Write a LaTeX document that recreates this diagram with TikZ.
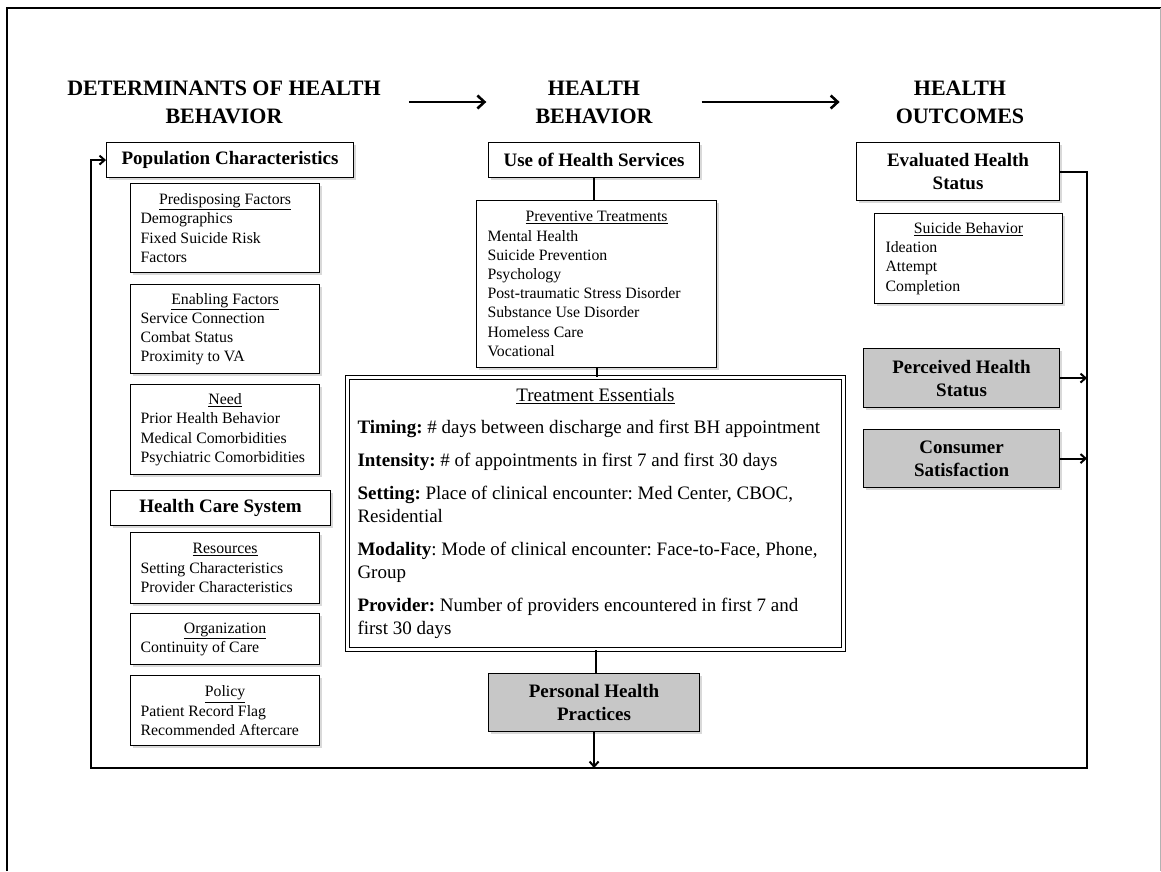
\documentclass[tikz,border=0pt]{standalone}
\usepackage{fontspec}
\setmainfont{Liberation Serif}
\usepackage{tikz}
\usetikzlibrary{arrows.meta, positioning, shadows}
\setlength{\parindent}{0pt}
\tikzset{
  head/.style={align=center, inner sep=0pt, font=\fontsize{22}{28}\selectfont\bfseries},
  cat/.style={rectangle, draw=black, line width=1.1pt, fill=white, align=center, inner sep=2pt,
              anchor=north west, font=\fontsize{19}{23}\selectfont\bfseries,
              drop shadow={shadow xshift=2pt, shadow yshift=-2pt, opacity=0.3}},
  outc/.style={cat, fill=black!22},
  item/.style={rectangle, draw=black, line width=1.1pt, fill=white, align=flush left,
               inner xsep=10pt, inner ysep=2pt, anchor=north west,
               font=\fontsize{15.8}{19.2}\selectfont\frenchspacing,
               drop shadow={shadow xshift=2pt, shadow yshift=-2pt, opacity=0.3}},
  link/.style={line width=2pt},
  arrow/.style={link, -{Straight Barb[length=5pt, width=9pt]}},
  bigarrow/.style={line width=2.6pt, -{Straight Barb[length=7pt, width=13pt]}},
}
\newcommand{\hd}[1]{\makebox[\hsize]{\underline{#1}}}

\begin{document}
\begin{tikzpicture}[x=1pt, y=-1pt]
  \useasboundingbox (0,0) rectangle (1161,871);
  % slide frame
  \draw[line width=1.6pt] (7,871) -- (7,8) -- (1161,8);
  \draw[black!30] (1160,8) -- (1160,871);

  % column headings
  \node[head] (hdet) at (224,102) {DETERMINANTS OF HEALTH\\BEHAVIOR};
  \node[head] (hbeh) at (594,102) {HEALTH\\BEHAVIOR};
  \node[head] (hout) at (960,102) {HEALTH\\OUTCOMES};
  \draw[bigarrow, shorten <=28pt, shorten >=49pt] (hdet.east) -- (hbeh.west);
  \draw[bigarrow, shorten <=49pt, shorten >=56pt] (hbeh.east) -- (hout.west);

  % determinants
  \node[cat, minimum width=247pt, minimum height=35pt] (pop) at (106,142) {Population Characteristics};
  \node[item, text width=169pt, minimum height=89pt] (predis) at (130,183)
    {\hd{Predisposing Factors}\\Demographics\\Fixed Suicide Risk\\Factors};
  \node[item, text width=169pt, minimum height=89pt, below=11pt of predis] (enab)
    {\hd{Enabling Factors}\\Service Connection\\Combat Status\\Proximity to VA};
  \node[item, text width=169pt, minimum height=90pt, below=10pt of enab] (need)
    {\hd{Need}\\Prior Health Behavior\\Medical Comorbidities\\Psychiatric Comorbidities};
  \node[cat, minimum width=220pt, minimum height=35pt] (hcs) at (110,490) {Health Care System};
  \node[item, text width=169pt, minimum height=71pt] (res) at (130,532)
    {\hd{Resources}\\Setting Characteristics\\Provider Characteristics};
  \node[item, text width=169pt, minimum height=51pt, below=9pt of res] (org)
    {\hd{Organization}\\Continuity of Care};
  \node[item, text width=169pt, minimum height=70pt, below=10pt of org] (pol)
    {\hd{Policy}\\Patient Record Flag\\Recommended Aftercare};

  % health behavior
  \node[cat, minimum width=211pt, minimum height=35pt] (use) at (488,142) {Use of Health Services};
  \node[item, text width=218pt, inner xsep=11pt, minimum height=167pt] (prev) at (476,200)
    {\hd{Preventive Treatments}\\Mental Health\\Suicide Prevention\\Psychology\\
     Post-traumatic Stress Disorder\\Substance Use Disorder\\Homeless Care\\Vocational};
  \node[item, double, double distance=2.4pt, line width=1pt, text width=476pt, inner xsep=10pt,
        minimum height=272pt, font=\fontsize{19}{23}\selectfont\frenchspacing] (ess) at (347,377)
    {\hd{Treatment Essentials}\\[9pt]
     \textbf{Timing:} \# days between discharge and first BH appointment\\[10pt]
     \textbf{Intensity:} \# of appointments in first 7 and first 30 days\\[10pt]
     \textbf{Setting:} Place of clinical encounter: Med Center, CBOC,\\Residential\\[10pt]
     \textbf{Modality}: Mode of clinical encounter: Face-to-Face, Phone,\\Group\\[10pt]
     \textbf{Provider:} Number of providers encountered in first 7 and\\first 30 days};
  \node[outc, minimum width=211pt, minimum height=58pt] (php) at (488,673) {Personal Health\\Practices};

  % health outcomes
  \node[cat, minimum width=203pt, minimum height=58pt] (evalst) at (856,142) {Evaluated Health\\Status};
  \node[item, text width=166pt, inner xsep=11pt, minimum height=90pt] (suic) at (874,213)
    {\hd{Suicide Behavior}\\Ideation\\Attempt\\Completion};
  \node[outc, minimum width=196pt, minimum height=59pt] (perc) at (863,348) {Perceived Health\\Status};
  \node[outc, minimum width=196pt, minimum height=58pt] (cons) at (863,429) {Consumer\\Satisfaction};

  % connectors
  \coordinate (fbR) at (1087,768);
  \coordinate (fbL) at (91,768);
  \draw[link] (use.south) -- (use.south |- prev.north);
  \draw[link] (prev.south) -- (prev.south |- ess.north);
  \draw[link] (ess.south) -- (ess.south |- php.north);
  \draw[arrow] (php.south) -- (php.south |- fbL);
  \draw[arrow] (evalst.east) -| (fbR) -- (fbL) |- (pop.west);
  \draw[arrow] (perc.east) -- (perc.east -| fbR);
  \draw[arrow] (cons.east) -- (cons.east -| fbR);
\end{tikzpicture}
\end{document}
